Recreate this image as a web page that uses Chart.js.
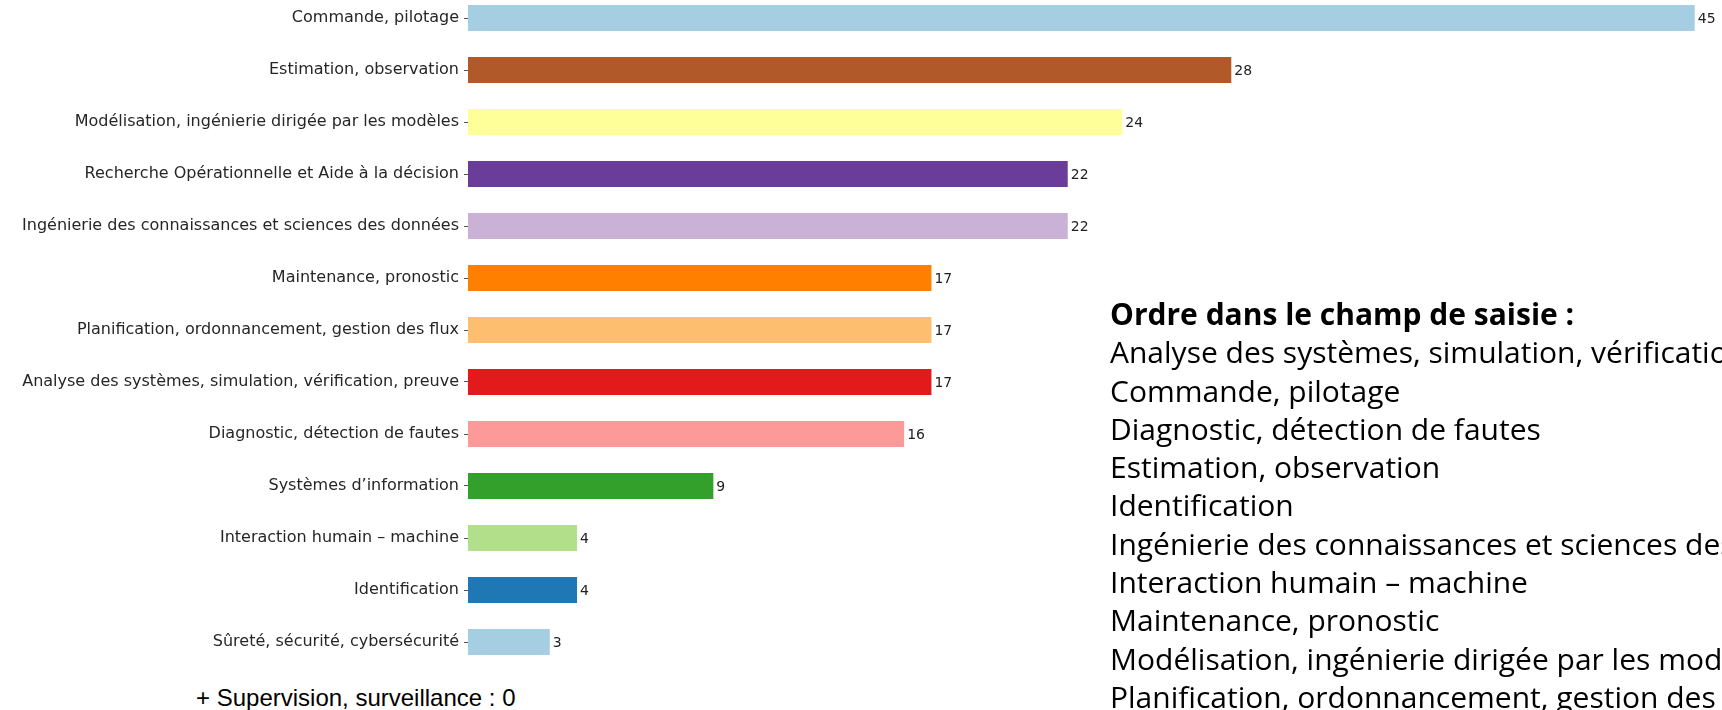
<!DOCTYPE html>
<html lang="fr">
<head>
<meta charset="utf-8">
<title>Thématiques</title>
<script src="https://cdn.jsdelivr.net/npm/chart.js@4.4.1/dist/chart.umd.min.js"></script>
<style>
    html, body {
        margin: 0;
        padding: 0;
        background: #fff;
        width: 1722px;
        height: 710px;
        overflow: hidden;
        position: relative;
    }
    #chartWrap {
        position: absolute;
        left: 0;
        top: -8px;
        width: 1722px;
        height: 676px;
    }
    #ordreSaisie {
        position: absolute;
        left: 1110px;
        top: 295px;
        font-family: "Open Sans", sans-serif;
        font-size: 30px;
        line-height: 38.3px;
        color: #000;
        white-space: nowrap;
    }
    #ordreSaisie .titre {
        font-weight: bold;
    }
    #footnote {
        position: absolute;
        left: 196px;
        top: 684px;
        font-family: "Liberation Sans", Arial, sans-serif;
        font-size: 24px;
        color: #000;
        white-space: nowrap;
    }
</style>
</head>
<body>
<div id="chartWrap"><canvas id="themesChart" width="1722" height="676"></canvas></div>
<div id="ordreSaisie"></div>
<div id="footnote"></div>

<script>
// Données du graphique
const categories = [
    'Commande, pilotage',
    'Estimation, observation',
    'Modélisation, ingénierie dirigée par les modèles',
    'Recherche Opérationnelle et Aide à la décision',
    'Ingénierie des connaissances et sciences des données',
    'Maintenance, pronostic',
    'Planification, ordonnancement, gestion des flux',
    'Analyse des systèmes, simulation, vérification, preuve',
    'Diagnostic, détection de fautes',
    'Systèmes d’information',
    'Interaction humain – machine',
    'Identification',
    'Sûreté, sécurité, cybersécurité'
];

const values = [45, 28, 24, 22, 22, 17, 17, 17, 16, 9, 4, 4, 3];

const barColors = [
    '#a6cee3', '#b15928', '#ffff99', '#6a3d9a', '#cab2d6', '#ff7f00', '#fdbf6f',
    '#e31a1c', '#fb9a99', '#33a02c', '#b2df8a', '#1f78b4', '#a6cee3'
];

// Texte de droite : ordre dans le champ de saisie
const ordreTitre = 'Ordre dans le champ de saisie :';
const ordreItems = [
    'Analyse des systèmes, simulation, vérification, preuve',
    'Commande, pilotage',
    'Diagnostic, détection de fautes',
    'Estimation, observation',
    'Identification',
    'Ingénierie des connaissances et sciences des données',
    'Interaction humain – machine',
    'Maintenance, pronostic',
    'Modélisation, ingénierie dirigée par les modèles',
    'Planification, ordonnancement, gestion des flux'
];

const footnote = '+ Supervision, surveillance : 0';

const xMax = 46;

/**
 * Étiquettes de valeur au bout des barres
 */
const valueLabels = {
    id: 'valueLabels',
    afterDatasetsDraw: function(chart) {
        const ctx = chart.ctx;
        const meta = chart.getDatasetMeta(0);
        ctx.save();
        ctx.font = '14px "DejaVu Sans"';
        ctx.fillStyle = '#222';
        ctx.textAlign = 'left';
        ctx.textBaseline = 'middle';
        meta.data.forEach((bar, i) => {
            ctx.fillText(String(values[i]), bar.x + 3, bar.y + 1);
        });
        ctx.restore();
    }
};

function init() {
    // Bloc de texte à droite
    const bloc = document.getElementById('ordreSaisie');
    const titre = document.createElement('div');
    titre.className = 'titre';
    titre.textContent = ordreTitre;
    bloc.appendChild(titre);
    ordreItems.forEach(item => {
        const line = document.createElement('div');
        line.textContent = item;
        bloc.appendChild(line);
    });
    document.getElementById('footnote').textContent = footnote;

    const ctx = document.getElementById('themesChart').getContext('2d');

    new Chart(ctx, {
        type: 'bar',
        data: {
            labels: categories,
            datasets: [{
                data: values,
                backgroundColor: barColors,
                borderWidth: 0,
                barPercentage: 0.5,
                categoryPercentage: 1.0
            }]
        },
        options: {
            indexAxis: 'y',
            responsive: false,
            animation: false,
            devicePixelRatio: 1,
            layout: {
                padding: 0
            },
            plugins: {
                legend: { display: false },
                tooltip: { enabled: false }
            },
            scales: {
                x: {
                    display: false,
                    min: 0,
                    max: xMax
                },
                y: {
                    offset: true,
                    border: { display: false },
                    grid: {
                        offset: false,
                        drawOnChartArea: false,
                        drawTicks: true,
                        tickLength: 4,
                        color: '#555'
                    },
                    ticks: {
                        padding: 5,
                        color: '#262626',
                        font: {
                            family: 'DejaVu Sans',
                            size: 16
                        }
                    },
                    afterFit: function(scale) {
                        // bord gauche des barres fixé à 468 px, pas de marge haut/bas
                        scale.width = 468;
                        scale.paddingTop = 0;
                        scale.paddingBottom = 0;
                    }
                }
            }
        },
        plugins: [valueLabels]
    });
}

document.addEventListener('DOMContentLoaded', init);
</script>
</body>
</html>
